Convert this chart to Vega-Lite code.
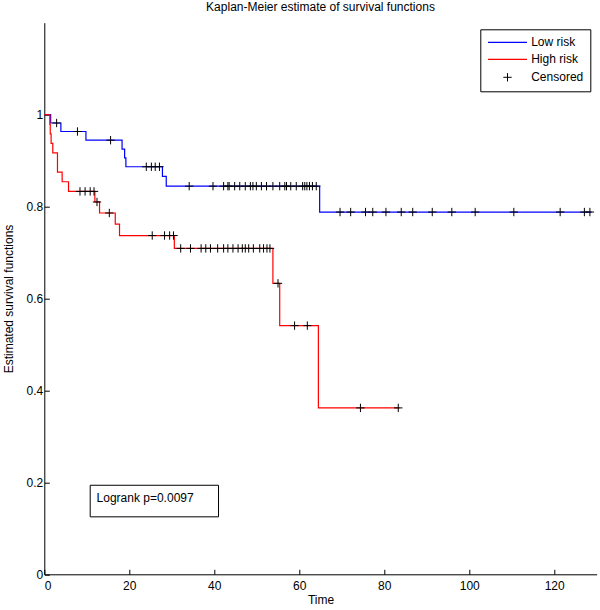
{
  "$schema": "https://vega.github.io/schema/vega-lite/v6.json",
  "width": 552.4,
  "height": 551.6,
  "autosize": {"type": "none"},
  "padding": {"left": 44.3, "top": 22.7, "right": 3.3, "bottom": 35.7},
  "background": "white",
  "title": {
    "text": "Kaplan-Meier estimate of survival functions",
    "anchor": "middle",
    "frame": "group",
    "baseline": "alphabetic",
    "offset": 0,
    "font": "Liberation Sans",
    "fontSize": 12,
    "fontWeight": "normal",
    "color": "black"
  },
  "datasets": {
    "km": [
      {"group": "Low risk", "time": 0, "surv": 1},
      {"group": "Low risk", "time": 1.5, "surv": 0.9818},
      {"group": "Low risk", "time": 3.9, "surv": 0.9633},
      {"group": "Low risk", "time": 9.8, "surv": 0.9444},
      {"group": "Low risk", "time": 18.3, "surv": 0.9251},
      {"group": "Low risk", "time": 18.9, "surv": 0.9058},
      {"group": "Low risk", "time": 19.2, "surv": 0.8866},
      {"group": "Low risk", "time": 27.8, "surv": 0.8655},
      {"group": "Low risk", "time": 28.7, "surv": 0.8444},
      {"group": "Low risk", "time": 64.8, "surv": 0.7881},
      {"group": "Low risk", "time": 128.8, "surv": 0.7881},
      {"group": "High risk", "time": 0, "surv": 1},
      {"group": "High risk", "time": 1.3, "surv": 0.979},
      {"group": "High risk", "time": 1.4, "surv": 0.958},
      {"group": "High risk", "time": 1.6, "surv": 0.9375},
      {"group": "High risk", "time": 2.0, "surv": 0.917},
      {"group": "High risk", "time": 3.1, "surv": 0.875},
      {"group": "High risk", "time": 4.2, "surv": 0.854},
      {"group": "High risk", "time": 5.7, "surv": 0.833},
      {"group": "High risk", "time": 11.9, "surv": 0.81},
      {"group": "High risk", "time": 13.0, "surv": 0.786},
      {"group": "High risk", "time": 16.7, "surv": 0.762},
      {"group": "High risk", "time": 17.7, "surv": 0.737},
      {"group": "High risk", "time": 30.6, "surv": 0.709},
      {"group": "High risk", "time": 53.8, "surv": 0.633},
      {"group": "High risk", "time": 55.4, "surv": 0.541},
      {"group": "High risk", "time": 64.5, "surv": 0.362},
      {"group": "High risk", "time": 83.6, "surv": 0.362}
    ],
    "censored": [
      {"group": "Low risk", "time": 2.9, "surv": 0.9818},
      {"group": "Low risk", "time": 7.8, "surv": 0.9633},
      {"group": "Low risk", "time": 15.6, "surv": 0.9444},
      {"group": "Low risk", "time": 24.0, "surv": 0.8866},
      {"group": "Low risk", "time": 25.2, "surv": 0.8866},
      {"group": "Low risk", "time": 26.1, "surv": 0.8866},
      {"group": "Low risk", "time": 27.1, "surv": 0.8866},
      {"group": "Low risk", "time": 34.1, "surv": 0.8444},
      {"group": "Low risk", "time": 39.7, "surv": 0.8444},
      {"group": "Low risk", "time": 42.2, "surv": 0.8444},
      {"group": "Low risk", "time": 43.2, "surv": 0.8444},
      {"group": "Low risk", "time": 43.5, "surv": 0.8444},
      {"group": "Low risk", "time": 44.8, "surv": 0.8444},
      {"group": "Low risk", "time": 46.0, "surv": 0.8444},
      {"group": "Low risk", "time": 47.3, "surv": 0.8444},
      {"group": "Low risk", "time": 48.5, "surv": 0.8444},
      {"group": "Low risk", "time": 49.1, "surv": 0.8444},
      {"group": "Low risk", "time": 49.9, "surv": 0.8444},
      {"group": "Low risk", "time": 51.1, "surv": 0.8444},
      {"group": "Low risk", "time": 52.3, "surv": 0.8444},
      {"group": "Low risk", "time": 53.8, "surv": 0.8444},
      {"group": "Low risk", "time": 55.4, "surv": 0.8444},
      {"group": "Low risk", "time": 56.6, "surv": 0.8444},
      {"group": "Low risk", "time": 57.0, "surv": 0.8444},
      {"group": "Low risk", "time": 58.0, "surv": 0.8444},
      {"group": "Low risk", "time": 59.3, "surv": 0.8444},
      {"group": "Low risk", "time": 60.8, "surv": 0.8444},
      {"group": "Low risk", "time": 61.3, "surv": 0.8444},
      {"group": "Low risk", "time": 61.8, "surv": 0.8444},
      {"group": "Low risk", "time": 62.4, "surv": 0.8444},
      {"group": "Low risk", "time": 63.1, "surv": 0.8444},
      {"group": "Low risk", "time": 64.0, "surv": 0.8444},
      {"group": "Low risk", "time": 69.6, "surv": 0.7881},
      {"group": "Low risk", "time": 72.1, "surv": 0.7881},
      {"group": "Low risk", "time": 75.6, "surv": 0.7881},
      {"group": "Low risk", "time": 77.3, "surv": 0.7881},
      {"group": "Low risk", "time": 80.4, "surv": 0.7881},
      {"group": "Low risk", "time": 84.0, "surv": 0.7881},
      {"group": "Low risk", "time": 86.7, "surv": 0.7881},
      {"group": "Low risk", "time": 91.3, "surv": 0.7881},
      {"group": "Low risk", "time": 95.9, "surv": 0.7881},
      {"group": "Low risk", "time": 101.4, "surv": 0.7881},
      {"group": "Low risk", "time": 110.5, "surv": 0.7881},
      {"group": "Low risk", "time": 121.4, "surv": 0.7881},
      {"group": "Low risk", "time": 127.1, "surv": 0.7881},
      {"group": "Low risk", "time": 128.4, "surv": 0.7881},
      {"group": "High risk", "time": 8.4, "surv": 0.833},
      {"group": "High risk", "time": 9.6, "surv": 0.833},
      {"group": "High risk", "time": 10.8, "surv": 0.833},
      {"group": "High risk", "time": 11.7, "surv": 0.833},
      {"group": "High risk", "time": 12.4, "surv": 0.81},
      {"group": "High risk", "time": 15.3, "surv": 0.786},
      {"group": "High risk", "time": 25.4, "surv": 0.737},
      {"group": "High risk", "time": 28.3, "surv": 0.737},
      {"group": "High risk", "time": 29.5, "surv": 0.737},
      {"group": "High risk", "time": 30.4, "surv": 0.737},
      {"group": "High risk", "time": 32.1, "surv": 0.709},
      {"group": "High risk", "time": 34.4, "surv": 0.709},
      {"group": "High risk", "time": 36.9, "surv": 0.709},
      {"group": "High risk", "time": 38.0, "surv": 0.709},
      {"group": "High risk", "time": 39.1, "surv": 0.709},
      {"group": "High risk", "time": 40.8, "surv": 0.709},
      {"group": "High risk", "time": 42.2, "surv": 0.709},
      {"group": "High risk", "time": 43.2, "surv": 0.709},
      {"group": "High risk", "time": 44.4, "surv": 0.709},
      {"group": "High risk", "time": 45.6, "surv": 0.709},
      {"group": "High risk", "time": 46.6, "surv": 0.709},
      {"group": "High risk", "time": 47.3, "surv": 0.709},
      {"group": "High risk", "time": 48.1, "surv": 0.709},
      {"group": "High risk", "time": 49.2, "surv": 0.709},
      {"group": "High risk", "time": 50.7, "surv": 0.709},
      {"group": "High risk", "time": 51.6, "surv": 0.709},
      {"group": "High risk", "time": 52.4, "surv": 0.709},
      {"group": "High risk", "time": 53.1, "surv": 0.709},
      {"group": "High risk", "time": 55.0, "surv": 0.633},
      {"group": "High risk", "time": 58.9, "surv": 0.541},
      {"group": "High risk", "time": 61.9, "surv": 0.541},
      {"group": "High risk", "time": 74.4, "surv": 0.362},
      {"group": "High risk", "time": 83.3, "surv": 0.362}
    ],
    "note": [
      {"label": "Logrank p=0.0097"}
    ]
  },
  "layer": [
    {
      "data": {"name": "km"},
      "mark": {"type": "line", "interpolate": "step-after", "strokeWidth": 1.2},
      "encoding": {
        "x": {
          "field": "time", "type": "quantitative",
          "scale": {"domain": [0, 130], "nice": false, "zero": false},
          "axis": {"title": "Time", "values": [0, 20, 40, 60, 80, 100, 120], "format": "d", "labelPadding": 11, "titlePadding": 3}
        },
        "y": {
          "field": "surv", "type": "quantitative",
          "scale": {"domain": [0, 1.2], "nice": false},
          "axis": {"title": "Estimated survival functions", "values": [0, 0.2, 0.4, 0.6, 0.8, 1], "format": "~g", "labelPadding": 6.5, "titlePadding": 11}
        },
        "color": {
          "field": "group", "type": "nominal",
          "scale": {"domain": ["Low risk", "High risk", "Censored"], "range": ["#0000ff", "#ff0000", "#000000"]},
          "legend": {
            "orient": "none", "legendX": 436, "legendY": 6.6,
            "title": null,
            "strokeColor": "black", "fillColor": "white",
            "padding": 7, "rowPadding": 5, "labelOffset": 17.7, "symbolOffset": 14.2,
            "symbolType": "stroke", "symbolSize": 1521, "symbolStrokeWidth": 1.2,
            "labelFont": "Liberation Sans", "labelFontSize": 12, "labelColor": "black",
            "encode": {
              "symbols": {
                "update": {
                  "shape": {"signal": "datum.value === 'Censored' ? 'M-1,0H1M0,-1V1' : 'stroke'"},
                  "size": {"signal": "datum.value === 'Censored' ? 70 : 1521"},
                  "strokeWidth": {"signal": "datum.value === 'Censored' ? 1 : 1.2"}
                }
              }
            }
          }
        }
      }
    },
    {
      "data": {"name": "censored"},
      "mark": {"type": "point", "shape": "M-1,0H1M0,-1V1", "size": 70, "filled": false, "strokeWidth": 1, "opacity": 1},
      "encoding": {
        "x": {"field": "time", "type": "quantitative"},
        "y": {"field": "surv", "type": "quantitative"},
        "color": {"datum": "Censored"}
      }
    },
    {
      "data": {"name": "note"},
      "mark": {"type": "rect", "fill": "white", "stroke": "black", "strokeWidth": 1},
      "encoding": {
        "x": {"datum": 10.8},
        "x2": {"datum": 41.0},
        "y": {"datum": 0.1937},
        "y2": {"datum": 0.125}
      }
    },
    {
      "data": {"name": "note"},
      "mark": {"type": "text", "align": "left", "baseline": "middle", "font": "Liberation Sans", "fontSize": 12, "color": "black"},
      "encoding": {
        "text": {"field": "label"},
        "x": {"datum": 12.3},
        "y": {"datum": 0.167}
      }
    }
  ],
  "config": {
    "view": {"stroke": null},
    "font": "Liberation Sans",
    "axis": {
      "grid": false,
      "domainColor": "black", "tickColor": "black", "labelColor": "black", "titleColor": "black",
      "tickSize": -5, "domainWidth": 1, "tickWidth": 1,
      "labelFont": "Liberation Sans", "labelFontSize": 12,
      "titleFont": "Liberation Sans", "titleFontSize": 12, "titleFontWeight": "normal"
    }
  }
}
